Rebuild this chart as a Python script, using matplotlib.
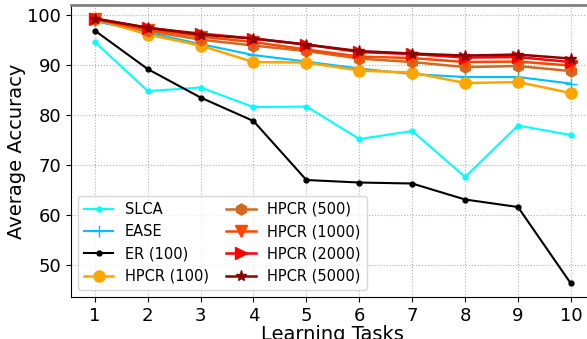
import matplotlib
matplotlib.use("Agg")
import matplotlib.pyplot as plt

tasks = [1, 2, 3, 4, 5, 6, 7, 8, 9, 10]

slca = [94.6, 84.8, 85.5, 81.6, 81.7, 75.2, 76.8, 67.6, 77.9, 76.0]
ease = [98.8, 96.5, 94.2, 92.0, 90.7, 89.3, 88.2, 87.6, 87.6, 86.3]
er_100 = [96.9, 89.2, 83.5, 78.8, 67.0, 66.5, 66.3, 63.1, 61.6, 46.3]
hpcr_100 = [99.2, 96.1, 93.9, 90.6, 90.5, 88.9, 88.5, 86.4, 86.6, 84.4]
hpcr_500 = [99.2, 96.8, 95.1, 93.9, 92.8, 91.3, 90.6, 89.6, 89.8, 88.8]
hpcr_1000 = [99.2, 97.1, 95.7, 94.6, 93.1, 91.7, 91.4, 90.6, 90.7, 89.9]
hpcr_2000 = [99.3, 97.4, 96.3, 95.3, 94.1, 92.6, 92.2, 91.5, 91.6, 90.6]
hpcr_5000 = [99.3, 97.5, 96.1, 95.3, 94.1, 92.8, 92.3, 91.9, 92.1, 91.3]

fig = plt.figure(figsize=(5.87, 3.39), dpi=100)
ax = fig.add_axes([0.121, 0.124, 0.892, 0.861])

ax.plot(tasks, slca, color="cyan", marker=".", markersize=7, lw=1.5, label="SLCA")
ax.plot(tasks, ease, color="deepskyblue", marker="+", markersize=8, lw=1.5, label="EASE")
ax.plot(tasks, er_100, color="black", marker=".", markersize=7, lw=1.5, label="ER (100)")
ax.plot(tasks, hpcr_100, color="orange", marker="o", markersize=8, lw=1.8, label="HPCR (100)")
ax.plot(tasks, hpcr_500, color="chocolate", marker="h", markersize=8, lw=1.8, label="HPCR (500)")
ax.plot(tasks, hpcr_1000, color="orangered", marker="v", markersize=8, lw=1.8, label="HPCR (1000)")
ax.plot(tasks, hpcr_2000, color="red", marker=">", markersize=8, lw=1.8, label="HPCR (2000)")
ax.plot(tasks, hpcr_5000, color="darkred", marker="*", markersize=8, lw=1.8, label="HPCR (5000)")

ax.set_xlim(0.55, 10.45)
ax.set_ylim(43.6, 102.0)
ax.set_xticks(tasks)
ax.set_yticks([50, 60, 70, 80, 90, 100])
ax.tick_params(labelsize=13)
ax.grid(True, linestyle=":", color="darkgray", alpha=0.9)
ax.spines["top"].set_color("gray")
ax.spines["top"].set_linewidth(2)

ax.set_xlabel("Learning Tasks", fontsize=14, labelpad=0)
ax.set_ylabel("Average Accuracy", fontsize=14, labelpad=1)
ax.legend(loc="lower left", ncol=2, fontsize=10.5, columnspacing=1.2)

fig.savefig("out.png", dpi=100)
